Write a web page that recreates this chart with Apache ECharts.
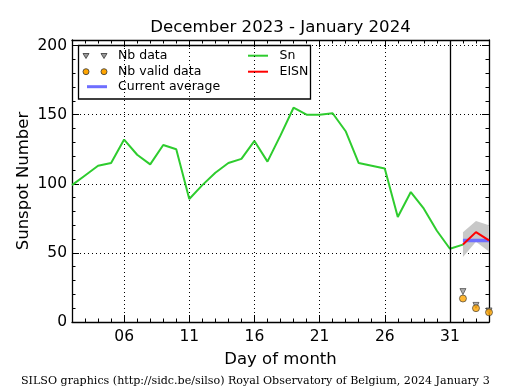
<!DOCTYPE html>
<html>
<head>
<meta charset="utf-8">
<script src="https://cdn.jsdelivr.net/npm/echarts@6/dist/echarts.min.js"></script>
<style>html,body{margin:0;padding:0;background:#fff}#chart{width:515px;height:390px}</style>
</head>
<body>
<div id="chart"></div>
<script>
// ---- data ----
const days = ['02','03','04','05','06','07','08','09','10','11','12','13','14','15','16','17','18','19','20','21','22','23','24','25','26','27','28','29','30','31','32','33','34'];
const majorDays = ['06','11','16','21','26','31'];
const snDays = ['02','03','04','05','06','07','08','09','10','11','12','13','14','15','16','17','18','19','20','21','22','23','24','25','26','27','28','29','30','31','32'];
const snValues = [99,106,113,115,132,121,114,128,125,89,99,108,115,118,131,116,135,155,150,150,151,138,115,113,111,76,94,82,66,53,56];
const eisnDays = ['32','33','34'];
const eisnValues = [56,65,59];
const avgDays = ['32','33','34'];
const avgValues = [59,59,59];
const bandLower = [47,58,51];
const bandUpper = [65,73,70];
const nbDays = ['32','33','34'];
const nbData = [22,12,8];
const nbValid = [17,10,7];
const monthSplitDay = '31';

const pairs = (xs, ys) => xs.map((x, i) => [x, ys[i]]);
const isMajor = (i, v) => majorDays.includes(v);
const black = '#000';

const chart = echarts.init(document.getElementById('chart'), null, {renderer: 'canvas'});

const catAxis = (extra) => Object.assign({
  type: 'category', data: days, boundaryGap: false,
  axisLine: {show: false, onZero: false},
  axisLabel: {show: false},
  splitLine: {show: false},
  axisTick: {show: false}
}, extra);
const valAxis = (extra) => Object.assign({
  type: 'value', min: 0, max: 204,
  axisLine: {show: false, onZero: false},
  axisLabel: {show: false},
  splitLine: {show: false},
  axisTick: {show: false}
}, extra);

const legendFont = 12.5;

const option = {
  animation: false,
  backgroundColor: '#fff',
  textStyle: {fontFamily: 'DejaVu Sans', color: black},
  title: [
    {text: 'December 2023 - January 2024', left: 280.5, textAlign: 'center', top: 19, padding: 0,
     textStyle: {fontSize: 16.6, fontWeight: 'normal', color: black, fontFamily: 'DejaVu Sans'}},
    {text: 'SILSO graphics (http://sidc.be/silso) Royal Observatory of Belgium, 2024 January 3',
     left: 21, top: 375.5, padding: 0,
     textStyle: {fontSize: 11.1, fontWeight: 'normal', color: black, fontFamily: 'DejaVu Serif'}}
  ],
  grid: {left: 72, top: 40, width: 417, height: 282, containLabel: false},
  xAxis: [
    catAxis({position: 'bottom',
      axisLine: {show: true, onZero: false, lineStyle: {color: black, width: 1.3}},
      axisTick: {show: true, inside: true, length: 7, interval: isMajor, lineStyle: {color: black, width: 1}},
      axisLabel: {show: true, interval: isMajor, fontSize: 15.5, color: black, margin: 7},
      splitLine: {show: true, interval: isMajor, lineStyle: {color: black, width: 1, type: [1, 3]}},
      name: 'Day of month', nameLocation: 'middle', nameGap: 29, nameMoveOverlap: false,
      nameTextStyle: {fontSize: 16.5, color: black}
    }),
    catAxis({position: 'bottom',
      axisTick: {show: true, inside: true, length: 3.5, interval: 0, lineStyle: {color: black, width: 1}}}),
    catAxis({position: 'top',
      axisLine: {show: true, onZero: false, lineStyle: {color: black, width: 1.3}},
      axisTick: {show: true, inside: true, length: 7, interval: isMajor, lineStyle: {color: black, width: 1}}}),
    catAxis({position: 'top',
      axisTick: {show: true, inside: true, length: 3.5, interval: 0, lineStyle: {color: black, width: 1}}})
  ],
  yAxis: [
    valAxis({position: 'left', interval: 50,
      axisLine: {show: true, onZero: false, lineStyle: {color: black, width: 1.3}},
      axisTick: {show: true, inside: true, length: 7, lineStyle: {color: black, width: 1}},
      axisLabel: {show: true, fontSize: 15.5, color: black, margin: 5,
        formatter: v => (v % 50 === 0 ? String(v) : '')},
      splitLine: {show: true, lineStyle: {color: black, width: 1, type: [1, 3]}},
      name: 'Sunspot Number', nameLocation: 'middle', nameGap: 40, nameMoveOverlap: false,
      nameTextStyle: {fontSize: 16.5, color: black}
    }),
    valAxis({position: 'left', interval: 10,
      axisTick: {show: true, inside: true, length: 3.5, lineStyle: {color: black, width: 1}}}),
    valAxis({position: 'right', interval: 50,
      axisLine: {show: true, onZero: false, lineStyle: {color: black, width: 1.3}},
      axisTick: {show: true, inside: true, length: 7, lineStyle: {color: black, width: 1}}}),
    valAxis({position: 'right', interval: 10,
      axisTick: {show: true, inside: true, length: 3.5, lineStyle: {color: black, width: 1}}})
  ],
  series: [
    {name: 'band lower', type: 'line', stack: 'band', data: pairs(avgDays, bandLower),
     symbol: 'none', lineStyle: {opacity: 0}, silent: true, z: 1},
    {name: 'band', type: 'line', stack: 'band',
     data: avgDays.map((d, i) => [d, bandUpper[i] - bandLower[i]]),
     symbol: 'none', lineStyle: {opacity: 0}, areaStyle: {color: '#c8c8c8', opacity: 1}, silent: true, z: 1},
    {name: 'Sn', type: 'line', data: pairs(snDays, snValues), symbol: 'none',
     lineStyle: {color: '#2ecc2e', width: 2}, itemStyle: {color: '#2ecc2e'}, z: 3,
     markLine: {silent: true, symbol: ['none', 'none'], label: {show: false},
       lineStyle: {color: black, width: 1.3, type: 'solid'},
       data: [{xAxis: monthSplitDay}]}},
    {name: 'Current average', type: 'line', data: pairs(avgDays, avgValues), symbol: 'none',
     lineStyle: {color: '#6e6eff', width: 3.5}, itemStyle: {color: '#6e6eff'}, z: 4},
    {name: 'EISN', type: 'line', data: pairs(eisnDays, eisnValues), symbol: 'none',
     lineStyle: {color: '#ff0000', width: 2}, itemStyle: {color: '#ff0000'}, z: 5},
    {name: 'Nb data', type: 'scatter', data: pairs(nbDays, nbData), symbol: 'triangle', symbolRotate: 180,
     symbolSize: 6, itemStyle: {color: '#9a9a9a', borderColor: '#333', borderWidth: 0.8}, z: 6},
    {name: 'Nb valid data', type: 'scatter', data: pairs(nbDays, nbValid), symbol: 'circle',
     symbolSize: 7, itemStyle: {color: '#ffa500', borderColor: '#333', borderWidth: 0.8}, z: 7}
  ],
  graphic: [
    {type: 'group', z: 100, children: [
      {type: 'rect', shape: {x: 78.5, y: 45.5, width: 232, height: 53.5},
       style: {fill: '#fff', stroke: black, lineWidth: 1.3}},
      {type: 'polygon', shape: {points: [[83, 53.5], [89, 53.5], [86, 58.5]]}, style: {fill: '#9a9a9a', stroke: '#333', lineWidth: 0.8}},
      {type: 'polygon', shape: {points: [[101, 53.5], [107, 53.5], [104, 58.5]]}, style: {fill: '#9a9a9a', stroke: '#333', lineWidth: 0.8}},
      {type: 'text', x: 118, y: 56, style: {text: 'Nb data', fontSize: legendFont, fontFamily: 'DejaVu Sans', fill: black, verticalAlign: 'middle'}},
      {type: 'circle', shape: {cx: 86, cy: 71.7, r: 3}, style: {fill: '#ffa500', stroke: '#333', lineWidth: 0.8}},
      {type: 'circle', shape: {cx: 104, cy: 71.7, r: 3}, style: {fill: '#ffa500', stroke: '#333', lineWidth: 0.8}},
      {type: 'text', x: 118, y: 72, style: {text: 'Nb valid data', fontSize: legendFont, fontFamily: 'DejaVu Sans', fill: black, verticalAlign: 'middle'}},
      {type: 'line', shape: {x1: 87, y1: 86.7, x2: 107, y2: 86.7}, style: {stroke: '#6e6eff', lineWidth: 3}},
      {type: 'text', x: 118, y: 87, style: {text: 'Current average', fontSize: legendFont, fontFamily: 'DejaVu Sans', fill: black, verticalAlign: 'middle'}},
      {type: 'line', shape: {x1: 248, y1: 55.7, x2: 268, y2: 55.7}, style: {stroke: '#2ecc2e', lineWidth: 2}},
      {type: 'text', x: 279.5, y: 56, style: {text: 'Sn', fontSize: legendFont, fontFamily: 'DejaVu Sans', fill: black, verticalAlign: 'middle'}},
      {type: 'line', shape: {x1: 248, y1: 71.7, x2: 268, y2: 71.7}, style: {stroke: '#ff0000', lineWidth: 2}},
      {type: 'text', x: 279.5, y: 72, style: {text: 'EISN', fontSize: legendFont, fontFamily: 'DejaVu Sans', fill: black, verticalAlign: 'middle'}}
    ]}
  ]
};
chart.setOption(option);
</script>
</body>
</html>
